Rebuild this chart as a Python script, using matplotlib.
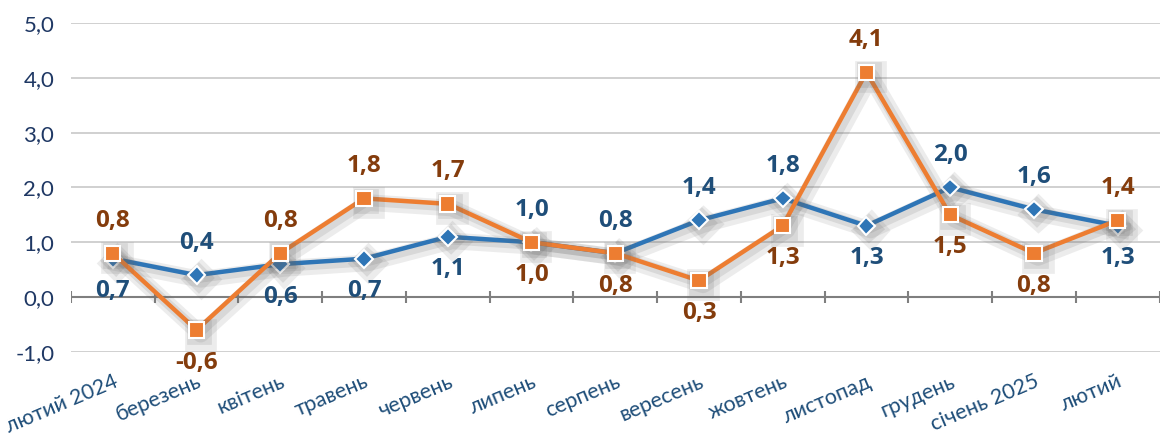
import matplotlib
matplotlib.use("Agg")
import matplotlib.pyplot as plt
import matplotlib.patheffects as pe

months = ["лютий 2024", "березень", "квітень", "травень", "червень", "липень",
          "серпень", "вересень", "жовтень", "листопад", "грудень", "січень 2025", "лютий"]
blue_vals = [0.7, 0.4, 0.6, 0.7, 1.1, 1.0, 0.8, 1.4, 1.8, 1.3, 2.0, 1.6, 1.3]
orange_vals = [0.8, -0.6, 0.8, 1.8, 1.7, 1.0, 0.8, 0.3, 1.3, 4.1, 1.5, 0.8, 1.4]
# +1 = label above the point, -1 = below
blue_pos = [-1, 1, -1, -1, -1, 1, 1, 1, 1, -1, 1, 1, -1]
orange_pos = [1, -1, 1, 1, 1, -1, -1, -1, -1, 1, -1, -1, 1]
yticks = [-1, 0, 1, 2, 3, 4, 5]

BLUE = "#2e75b6"; ORANGE = "#ed7d31"
BLUE_TXT = "#1f4e79"; ORANGE_TXT = "#843c0c"; NAVY = "#1f3864"

plt.rcParams["font.family"] = ["Lato", "DejaVu Sans"]
LABEL_FONT = ["Open Sans", "DejaVu Sans"]

fig = plt.figure(figsize=(11.63, 4.41), dpi=100)
ax = fig.add_axes([0.061, 0.202, 0.936, 0.746])

x = list(range(len(months)))
shadow = [pe.SimpleLineShadow(offset=(3, -3), shadow_color="#666666", alpha=0.12, linewidth=12),
          pe.SimpleLineShadow(offset=(2, -2), shadow_color="#666666", alpha=0.15, linewidth=7),
          pe.Normal()]

ax.plot(x, blue_vals, color=BLUE, lw=3.2, marker="D", ms=9, mfc=BLUE, mec="white",
        mew=1.5, zorder=4, path_effects=shadow)
ax.plot(x, orange_vals, color=ORANGE, lw=3.2, marker="s", ms=11, mfc=ORANGE, mec="white",
        mew=1.5, zorder=5, path_effects=shadow)

for xi, v, p in zip(x, blue_vals, blue_pos):
    ax.annotate(f"{v:.1f}".replace(".", ","), (xi, v), xytext=(0, 23.5 * p),
                textcoords="offset points", ha="center", va="center", family=LABEL_FONT,
                fontsize=17.5, fontweight="bold", color=BLUE_TXT, zorder=6)
for xi, v, p in zip(x, orange_vals, orange_pos):
    ax.annotate(f"{v:.1f}".replace(".", ","), (xi, v), xytext=(0, 23.5 * p),
                textcoords="offset points", ha="center", va="center", family=LABEL_FONT,
                fontsize=17.5, fontweight="bold", color=ORANGE_TXT, zorder=6)

ax.set_xlim(-0.5, len(months) - 0.5)
ax.set_ylim(-1, 5)
ax.set_yticks(yticks)
ax.set_yticklabels([f"{t:.1f}".replace(".", ",") for t in yticks], fontsize=16, color=NAVY)
ax.grid(axis="y", color="#c8c8c8", lw=1.2, zorder=0)
ax.set_axisbelow(True)

# horizontal zero axis with crossing tick marks at category boundaries
ax.axhline(0, color="#7f7f7f", lw=1.5, zorder=2)
ax.vlines([i - 0.5 for i in range(len(months) + 1)], -0.11, 0.11, color="#7f7f7f", lw=1.5, zorder=2)

ax.set_xticks(x)
ax.set_xticklabels(months, rotation=23, ha="right", rotation_mode="anchor",
                   fontsize=15.5, color=BLUE_TXT)
ax.tick_params(axis="x", length=0, pad=14)
ax.tick_params(axis="y", length=0, pad=12)
for s in ax.spines.values():
    s.set_visible(False)

fig.savefig("out.png", dpi=100, facecolor="white")
